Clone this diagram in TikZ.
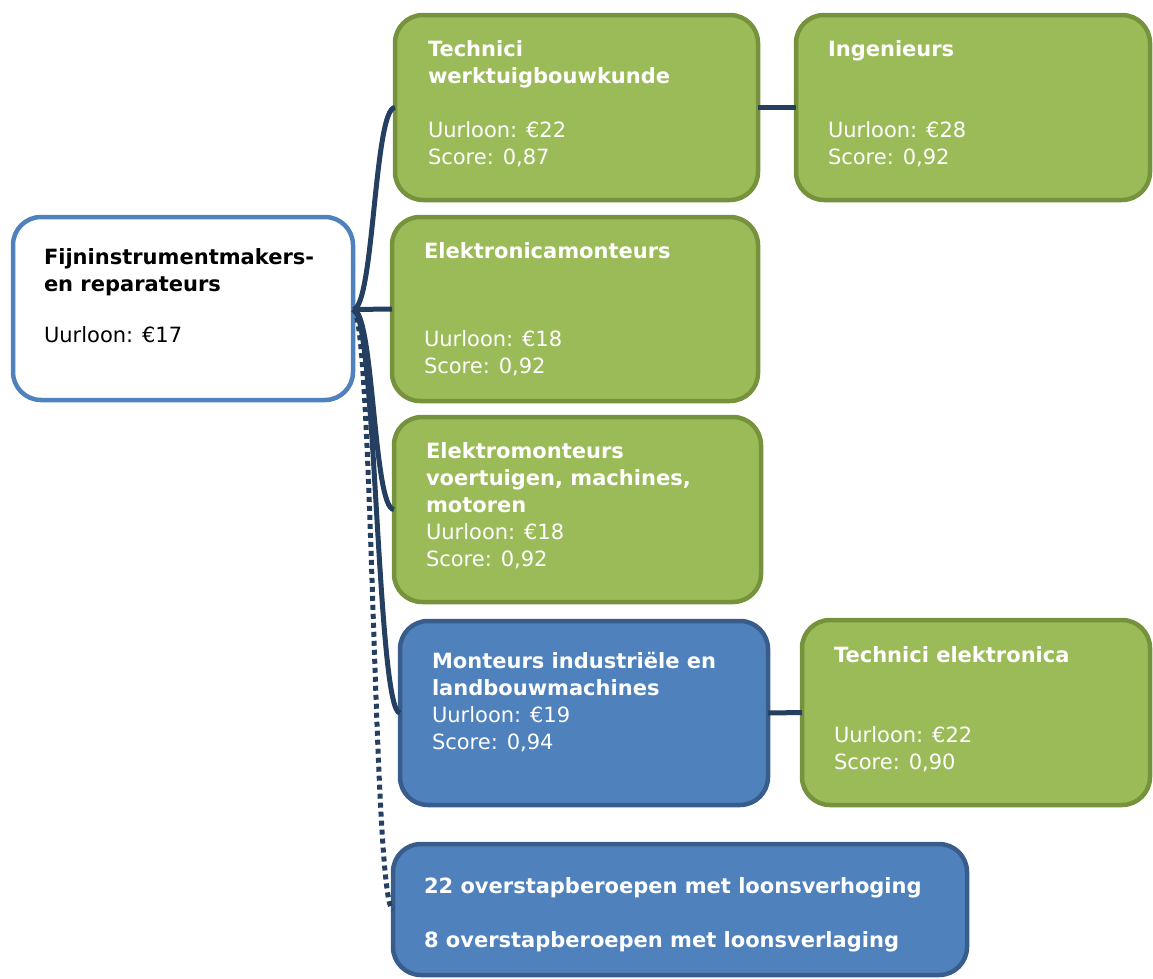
\documentclass[tikz,border=0pt]{standalone}
\usepackage{fontspec}
\setmainfont{DejaVu Sans}
\definecolor{leafgreen}{HTML}{9BBB59}
\definecolor{leafedge}{HTML}{76923C}
\definecolor{accblue}{HTML}{4F81BD}
\definecolor{accedge}{HTML}{385D8A}
\definecolor{linknavy}{HTML}{243F60}
\begin{document}
\begin{tikzpicture}[x=1pt,y=-1pt,
  box/.style={draw, line width=4.5pt, rounded corners=28pt, inner sep=0pt, outer sep=0pt},
  greenbox/.style={box, fill=leafgreen, draw=leafedge},
  bluebox/.style={box, fill=accblue, draw=accedge},
  rootbox/.style={box, fill=white, draw=accblue},
  txt/.style={inner sep=0pt, outer sep=0pt, anchor=north west, yshift=19.6pt, align=left,
              font=\fontsize{21}{27}\selectfont, text=white},
  ttl/.style={txt, font=\fontsize{21}{27}\selectfont\bfseries},
  link/.style={draw=linknavy, line width=5pt},
  dotlink/.style={link, dash pattern=on 5pt off 4pt}
]
\useasboundingbox (0,0) rectangle (1153,978);

% boxes
\node[rootbox, minimum width=340pt, minimum height=183pt] (r) at (183,308.5) {};
\node[greenbox, minimum width=363pt, minimum height=185pt] (b1) at (576.5,107.5) {};
\node[greenbox, minimum width=354pt, minimum height=185pt] (b2) at (973,107.5) {};
\node[greenbox, minimum width=366pt, minimum height=184pt] (b3) at (575,309) {};
\node[greenbox, minimum width=367pt, minimum height=185pt] (b4) at (577.5,509.5) {};
\node[bluebox,  minimum width=368pt, minimum height=184pt] (b5) at (584,713) {};
\node[greenbox, minimum width=348pt, minimum height=185pt] (b6) at (976,712.5) {};
\node[bluebox,  minimum width=574pt, minimum height=131pt] (b7) at (680,909.5) {};

% texts
\node[ttl, text=black] (rt) at (44,265) {\strut Fijninstrumentmakers-\\en reparateurs};
\node[txt, text=black] (rv) at (44,343) {\strut Uurloon: €17};

\node[ttl] (t1) at (428,57) {\strut Technici\\werktuigbouwkunde};
\node[txt] (v1) at (428,138) {\strut Uurloon: €22\\Score: 0,87};

\node[ttl] (t2) at (828,57) {\strut Ingenieurs};
\node[txt] (v2) at (828,138) {\strut Uurloon: €28\\Score: 0,92};

\node[ttl] (t3) at (424,259) {\strut Elektronicamonteurs};
\node[txt] (v3) at (424,347) {\strut Uurloon: €18\\Score: 0,92};

\node[ttl] (t4) at (426,459) {\strut Elektromonteurs\\voertuigen, machines,\\motoren};
\node[txt] (v4) at (426,540) {\strut Uurloon: €18\\Score: 0,92};

\node[ttl] (t5) at (432,669) {\strut Monteurs industriële en\\landbouwmachines};
\node[txt] (v5) at (432,723) {\strut Uurloon: €19\\Score: 0,94};

\node[ttl] (t6) at (834,663) {\strut Technici elektronica};
\node[txt] (v6) at (834,743) {\strut Uurloon: €22\\Score: 0,90};

\node[ttl] (t7) at (424,894) {\strut 22 overstapberoepen met loonsverhoging};
\node[ttl] (t8) at (424,948) {\strut 8 overstapberoepen met loonsverlaging};

% connectors
\coordinate (ro) at ([yshift=-1pt]r.east);
\draw[link] (ro) .. controls +(21,0) and ([xshift=-21pt]b1.west) .. (b1.west);
\draw[link] (ro) -- (b3.west);
\draw[link] (ro) .. controls +(21,0) and ([xshift=-21pt]b4.west) .. (b4.west);
\draw[link] (ro) .. controls +(23,0) and ([xshift=-23pt]b5.west) .. (b5.west);
\draw[dotlink] (ro) .. controls +(20,0) and ([xshift=-20pt]b7.west) .. (b7.west);
\draw[link] (b1.east) -- (b2.west);
\draw[link] (b5.east) -- (b6.west);
\end{tikzpicture}
\end{document}
